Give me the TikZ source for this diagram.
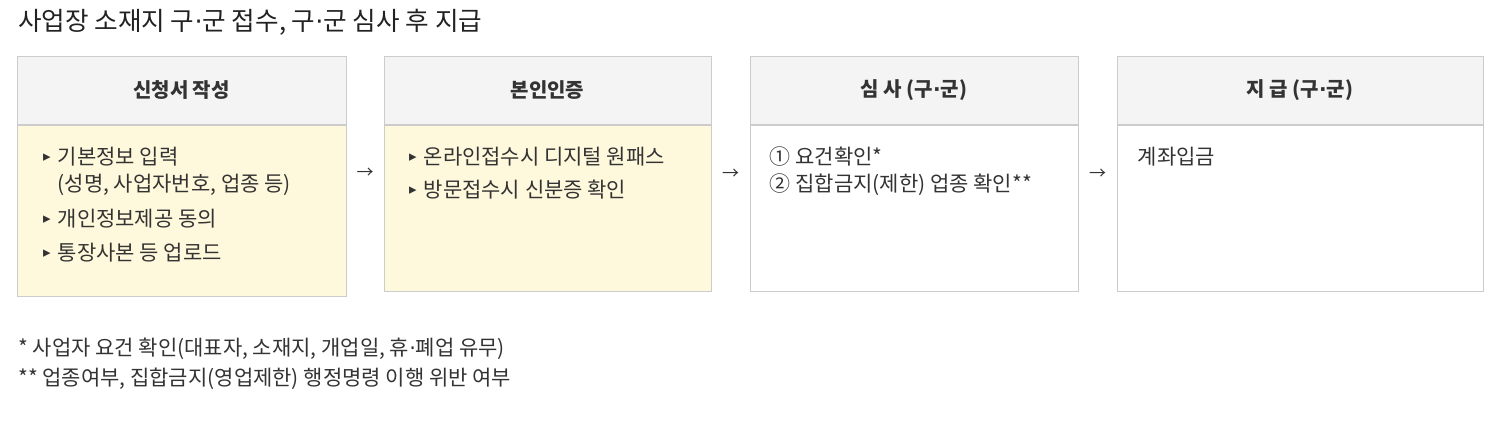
\documentclass[tikz,border=0pt]{standalone}
\usepackage{fontspec}
\setmainfont{Noto Sans CJK KR}
\newfontfamily\symfont{DejaVu Sans}
\usepackage{tikz}
\definecolor{trait}{HTML}{CCCCCC}
\definecolor{gris}{HTML}{F4F4F4}
\definecolor{creme}{HTML}{FEF8DC}
\definecolor{texte}{HTML}{333333}
\definecolor{titre}{HTML}{222222}
\usetikzlibrary{positioning,calc}
\newcommand\puce{\llap{\raisebox{3pt}{\symfont\fontsize{15}{15}\selectfont ▸}\hspace{7pt}}}
\newcommand\milieu{{\symfont ·}}

\begin{document}
\begin{tikzpicture}[x=1pt,y=-1pt,
  entete/.style={draw=trait,fill=gris,line width=1pt,minimum height=68,
    font=\bfseries\fontsize{20}{20}\selectfont,text=texte},
  corps/.style={draw=trait,fill=white,line width=1pt,anchor=north,minimum height=166},
  liste/.style={anchor=north west,align=left,inner sep=0pt,text=texte,
    font=\fontsize{21}{27}\selectfont},
  note/.style={anchor=west,inner sep=0pt,text=texte,font=\fontsize{21}{21}\selectfont}]
\useasboundingbox[fill=white] (0,0) rectangle (1502,421);

% titre
\node[anchor=west,inner sep=0pt,text=titre,font=\fontsize{25.6}{25.6}\selectfont] (titre) at (18,22)
  {사업장 소재지 구\milieu 군 접수, 구\milieu 군 심사 후 지급};

% étapes
\node[entete,minimum width=329] (h1) at (181.5,90) {신청서 작성};
\node[corps,fill=creme,minimum width=329,minimum height=171] (b1) at (h1.south) {};

\node[entete,minimum width=327] (h2) at (547.5,90) {본인인증};
\node[corps,fill=creme,minimum width=327] (b2) at (h2.south) {};

\node[entete,minimum width=328] (h3) at (914,90) {심 사 (구\milieu 군)};
\node[corps,minimum width=328] (b3) at (h3.south) {};

\node[entete,minimum width=366] (h4) at (1300,90) {지 급 (구\milieu 군)};
\node[corps,minimum width=366] (b4) at (h4.south) {};

% contenu
\node[liste] (t1) at ($(b1.north west)+(41,22.5)$)
  {\puce 기본정보 입력\\(성명, 사업자번호, 업종 등)\\[8pt]\puce 개인정보제공 동의\\[7pt]\puce 통장사본 등 업로드};
\node[liste] (t2) at ($(b2.north west)+(40,22.5)$)
  {\puce 온라인접수시 디지털 원패스\\[6pt]\puce 방문접수시 신분증 확인};
\node[liste] (t3) at ($(b3.north west)+(20,22.5)$)
  {① 요건확인*\\② 집합금지(제한) 업종 확인**};
\node[liste] (t4) at ($(b4.north west)+(21,22.5)$) {계좌입금};

% flèches
\node[text=texte,font=\fontsize{17}{17}\selectfont] (f1) at ($(b1.east)!0.5!(b2.west)+(0,-36)$) {→};
\node[text=texte,font=\fontsize{17}{17}\selectfont] (f2) at ($(b2.east)!0.5!(b3.west)+(0,-34)$) {→};
\node[text=texte,font=\fontsize{17}{17}\selectfont] (f3) at ($(b3.east)!0.5!(b4.west)+(0,-34)$) {→};

% notes
\node[note] (n1) at (18,349) {* 사업자 요건 확인(대표자, 소재지, 개업일, 휴\milieu 폐업 유무)};
\node[note] (n2) at (18,379) {** 업종여부, 집합금지(영업제한) 행정명령 이행 위반 여부};
\end{tikzpicture}
\end{document}
